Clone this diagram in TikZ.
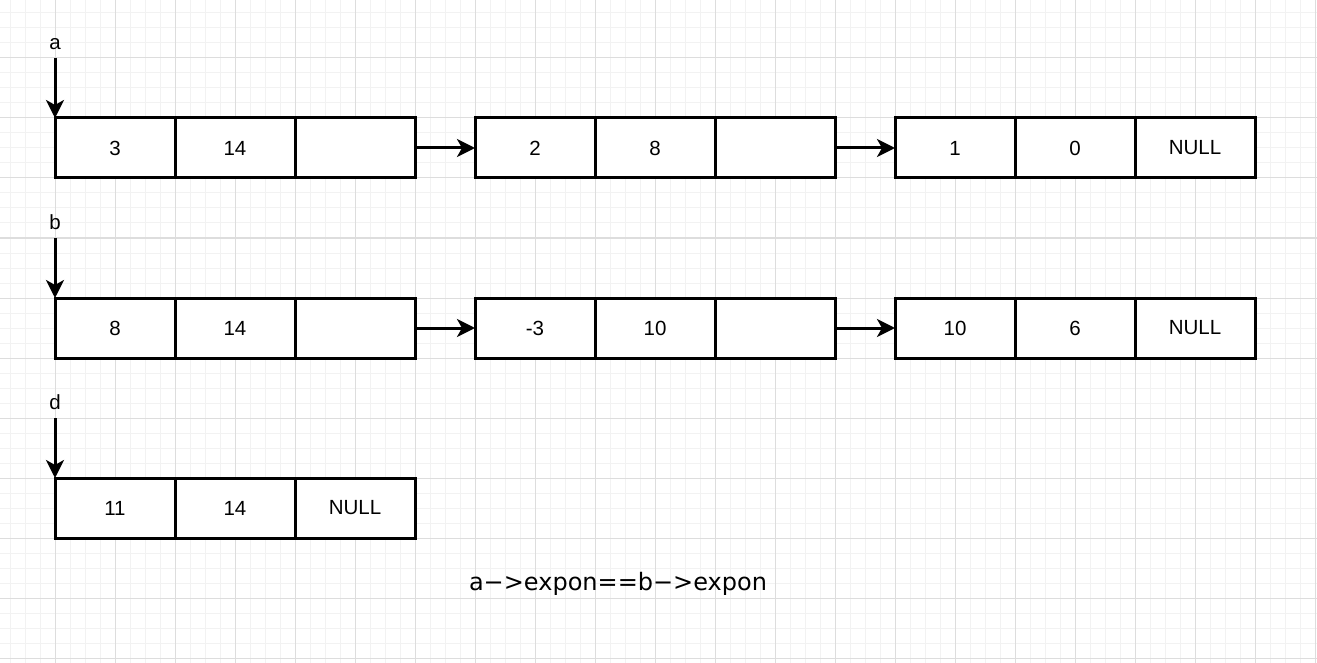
\documentclass[tikz,border=0pt]{standalone}
\usepackage{fontspec}
\setmainfont{Liberation Sans}
\newfontfamily\notefont{DejaVu Sans}
\usepackage{tikz}
\usetikzlibrary{arrows.meta,positioning}
\definecolor{ink}{HTML}{000000}
\definecolor{gridminor}{HTML}{F2F2F2}
\definecolor{gridmajor}{HTML}{DDDDDD}

\begin{document}
\begin{tikzpicture}[
  x=1pt,y=-1pt,
  font=\fontsize{20.5}{24}\selectfont,
  node distance=0pt,
  cell/.style={draw=ink,line width=3pt,minimum width=120pt,minimum height=60pt,
               inner sep=0pt,outer sep=0pt,fill=white},
  lbl/.style={inner sep=0pt,outer sep=0pt},
  link/.style={-{Stealth[length=18pt,width=18pt,inset=5pt]},draw=ink,line width=3pt},
  minor/.style={draw=gridminor,line width=1pt},
  major/.style={draw=gridmajor,line width=1pt},
]
\useasboundingbox[fill=white] (0,0) rectangle (1317,663);

% background grid
\foreach \gx in {10,25,...,1320} \draw[minor] (\gx,0) -- (\gx,663);
\foreach \gy in {13,28,...,670} \draw[minor] (0,\gy) -- (1317,\gy);
\foreach \gx in {55,115,...,1320} \draw[major] (\gx,0) -- (\gx,663);
\foreach \gy in {58,118,...,670} \draw[major] (0,\gy) -- (1317,\gy);

% list a
\node[cell] (a1c) at (115,148) {3};
\node[cell,right=of a1c] (a1e) {14};
\node[cell,right=of a1e] (a1n) {};
\node[cell,right=60pt of a1n] (a2c) {2};
\node[cell,right=of a2c] (a2e) {8};
\node[cell,right=of a2e] (a2n) {};
\node[cell,right=60pt of a2n] (a3c) {1};
\node[cell,right=of a3c] (a3e) {0};
\node[cell,right=of a3e] (a3n) {NULL};

% list b
\node[cell] (b1c) at (115,328) {8};
\node[cell,right=of b1c] (b1e) {14};
\node[cell,right=of b1e] (b1n) {};
\node[cell,right=60pt of b1n] (b2c) {-3};
\node[cell,right=of b2c] (b2e) {10};
\node[cell,right=of b2e] (b2n) {};
\node[cell,right=60pt of b2n] (b3c) {10};
\node[cell,right=of b3c] (b3e) {6};
\node[cell,right=of b3e] (b3n) {NULL};

% list d
\node[cell] (d1c) at (115,508) {11};
\node[cell,right=of d1c] (d1e) {14};
\node[cell,right=of d1e] (d1n) {NULL};

% head pointers
\coordinate (pa) at ([yshift=60pt]a1c.north west);
\coordinate (pb) at ([yshift=60pt]b1c.north west);
\coordinate (pd) at ([yshift=60pt]d1c.north west);
\node[lbl,above=8pt of pa] (la) {a};
\node[lbl,above=8pt of pb] (lb) {b};
\node[lbl,above=8pt of pd] (ld) {d};
\draw[link] (pa) -- (a1c.north west);
\draw[link] (pb) -- (b1c.north west);
\draw[link] (pd) -- (d1c.north west);

\draw[link] (a1n) -- (a2c);
\draw[link] (a2n) -- (a3c);
\draw[link] (b1n) -- (b2c);
\draw[link] (b2n) -- (b3c);

\node[lbl,font=\notefont\fontsize{24}{28}\selectfont] (cond) at (618,584) {a−>expon==b−>expon};
\end{tikzpicture}
\end{document}
